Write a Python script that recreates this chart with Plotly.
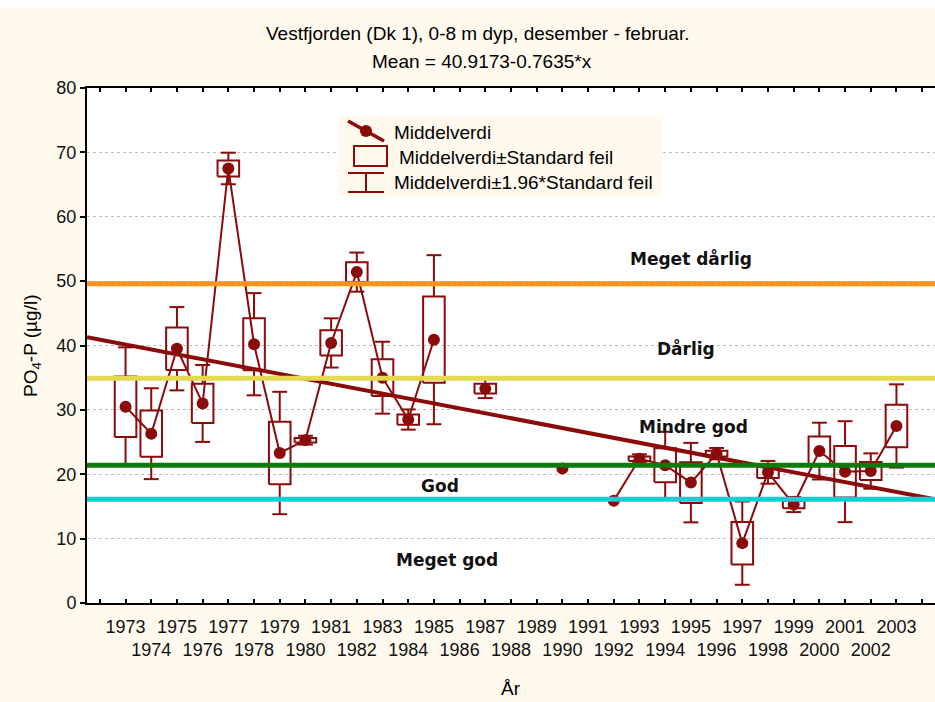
import plotly.graph_objects as go

# --- Data: winter PO4-P (µg/l) in Vestfjorden, 0-8 m ---
obs_years = [1973, 1974, 1975, 1976, 1977, 1978, 1979, 1980, 1981, 1982, 1983, 1984,
             1985, 1987, 1990, 1992, 1993, 1994, 1995, 1996, 1997, 1998, 1999, 2000,
             2001, 2002, 2003]
mean_po4 = [30.5, 26.3, 39.5, 31.0, 67.5, 40.2, 23.3, 25.3, 40.4, 51.4, 35.0, 28.5,
            40.9, 33.3, 20.9, 15.9, 22.4, 21.4, 18.7, 23.2, 9.3, 20.3, 15.3, 23.6,
            20.4, 20.5, 27.5]
se_po4 = [4.7, 3.6, 3.3, 3.05, 1.25, 4.05, 4.85, 0.35, 1.95, 1.55, 2.85, 0.8,
          6.7, 0.75, None, None, 0.35, 2.65, 3.15, 0.45, 3.3, 0.9, 0.6, 2.25,
          4.0, 1.4, 3.3]

# Linear trend from the regression, x = year - 1972
trend_intercept = 40.9173
trend_slope = -0.7635
trend_origin = 1972

# Class boundaries and labels
class_limits = [16.1, 21.4, 34.9, 49.6]
class_colors = ["#12CFD2", "#0B7B0B", "#E3DA52", "#F7931E"]
class_names = ["Meget god", "God", "Mindre god", "Dårlig", "Meget dårlig"]
class_label_x = [1985.5, 1985.25, 1995.1, 1994.8, 1995.0]
class_label_y = [6.7, 18.2, 27.3, 39.6, 53.5]

label_years = list(range(1973, 2004))
x_range = [1971.5, 2004.5]
y_range = [0, 80]

DARK_RED = "#8B0A0A"
CREAM = "#FFF9EE"
BOX_HALF = 0.42
CAP_HALF = 0.29

# plot-area pixel frame, used to place legend and titles in paper units
PLOT_L, PLOT_R, PLOT_T, PLOT_B = 87, 935, 88, 603
W, H = 935, 702


def px(xp):
    return (xp - PLOT_L) / (PLOT_R - PLOT_L)


def py(yp):
    return (PLOT_B - yp) / (PLOT_B - PLOT_T)


# connecting line: break where years are missing
all_years = list(range(obs_years[0], obs_years[-1] + 1))
mean_lookup = dict(zip(obs_years, mean_po4))
line_y = [mean_lookup.get(yr) for yr in all_years]

# boxes (mean ± SE) and whiskers (mean ± 1.96 SE)
box_x, box_y, wh_x, wh_y = [], [], [], []
for yr, m, s in zip(obs_years, mean_po4, se_po4):
    if s is None:
        continue
    lo, hi = m - s, m + s
    lo2, hi2 = m - 1.96 * s, m + 1.96 * s
    box_x += [yr - BOX_HALF, yr + BOX_HALF, yr + BOX_HALF, yr - BOX_HALF, yr - BOX_HALF, None]
    box_y += [lo, lo, hi, hi, lo, None]
    wh_x += [yr, yr, None, yr, yr, None,
             yr - CAP_HALF, yr + CAP_HALF, None, yr - CAP_HALF, yr + CAP_HALF, None]
    wh_y += [hi, hi2, None, lo, lo2, None, hi2, hi2, None, lo2, lo2, None]

fig = go.Figure()
fig.add_trace(go.Scatter(x=box_x, y=box_y, mode="lines",
                         line=dict(color=DARK_RED, width=2), hoverinfo="skip",
                         showlegend=False))
fig.add_trace(go.Scatter(x=wh_x, y=wh_y, mode="lines",
                         line=dict(color=DARK_RED, width=2), hoverinfo="skip",
                         showlegend=False))
fig.add_trace(go.Scatter(x=all_years, y=line_y, mode="lines+markers",
                         line=dict(color=DARK_RED, width=2),
                         marker=dict(color=DARK_RED, size=12),
                         connectgaps=False, showlegend=False, name="Middelverdi"))

trend_x = x_range
trend_y = [trend_intercept + trend_slope * (v - trend_origin) for v in trend_x]
fig.add_trace(go.Scatter(x=trend_x, y=trend_y, mode="lines",
                         line=dict(color=DARK_RED, width=4), showlegend=False))

shapes = []
# thin white strip along the top edge
shapes.append(dict(type="rect", xref="paper", yref="paper",
                   x0=px(0), x1=px(W), y0=py(0), y1=py(7),
                   fillcolor="white", line=dict(width=0), layer="below"))
# class boundary lines
for lim, col in zip(class_limits, class_colors):
    shapes.append(dict(type="line", xref="x", yref="y", x0=x_range[0], x1=x_range[1],
                       y0=lim, y1=lim, line=dict(color=col, width=5), layer="above"))

# legend panel
shapes.append(dict(type="rect", xref="paper", yref="paper",
                   x0=px(339), x1=px(662), y0=py(197), y1=py(116),
                   fillcolor=CREAM, line=dict(width=0), layer="above"))
shapes.append(dict(type="line", xref="paper", yref="paper",
                   x0=px(348), y0=py(121), x1=px(384), y1=py(141),
                   line=dict(color=DARK_RED, width=3.5), layer="above"))
shapes.append(dict(type="circle", xref="paper", yref="paper",
                   x0=px(360), x1=px(372), y0=py(125), y1=py(137),
                   fillcolor=DARK_RED, line=dict(color=DARK_RED, width=0), layer="above"))
shapes.append(dict(type="rect", xref="paper", yref="paper",
                   x0=px(354), x1=px(387), y0=py(166), y1=py(146),
                   line=dict(color=DARK_RED, width=2), layer="above"))
for seg in [((348, 173), (384, 173)), ((348, 192), (384, 192)), ((366, 173), (366, 192))]:
    (ax, ay), (bx, by) = seg
    shapes.append(dict(type="line", xref="paper", yref="paper",
                       x0=px(ax), y0=py(ay), x1=px(bx), y1=py(by),
                       line=dict(color=DARK_RED, width=2), layer="above"))

TEXT_FONT = "Liberation Sans, Arial, sans-serif"
annotations = []
legend_items = [("Middelverdi", 392, 132), ("Middelverdi±Standard feil", 397, 157),
                ("Middelverdi±1.96*Standard feil", 392, 182)]
for txt, lx, ly in legend_items:
    annotations.append(dict(text=txt, xref="paper", yref="paper", x=px(lx), y=py(ly),
                            xanchor="left", yanchor="middle", showarrow=False,
                            font=dict(family=TEXT_FONT, size=19, color="black")))

for name, cx, cy in zip(class_names, class_label_x, class_label_y):
    annotations.append(dict(text=name, x=cx, y=cy, xref="x", yref="y", showarrow=False,
                            xanchor="center", yanchor="middle",
                            font=dict(family="DejaVu Sans, sans-serif", size=17,
                                      color="#111111", weight="bold")))

annotations.append(dict(text="Vestfjorden (Dk 1), 0-8 m dyp, desember - februar.",
                        xref="paper", yref="paper", x=px(477), y=py(34),
                        xanchor="center", yanchor="middle", showarrow=False,
                        font=dict(family=TEXT_FONT, size=19, color="black")))
annotations.append(dict(text="Mean = 40.9173-0.7635*x",
                        xref="paper", yref="paper", x=px(482), y=py(62),
                        xanchor="center", yanchor="middle", showarrow=False,
                        font=dict(family=TEXT_FONT, size=19, color="black")))
annotations.append(dict(text="År", xref="paper", yref="paper", x=0.5, y=py(688),
                        xanchor="center", yanchor="middle", showarrow=False,
                        font=dict(family=TEXT_FONT, size=19, color="black")))
annotations.append(dict(text="PO<sub>4</sub>-P (µg/l)", xref="paper", yref="paper",
                        x=px(32), y=py(346), textangle=-90,
                        xanchor="center", yanchor="middle", showarrow=False,
                        font=dict(family=TEXT_FONT, size=19, color="black")))

# odd years on the first row, even years pushed to a second row
tick_text = [str(yr) if yr % 2 == 1 else "<br>" + str(yr) for yr in label_years]

fig.update_layout(
    template="none",
    width=W, height=H,
    margin=dict(l=PLOT_L, r=W - PLOT_R, t=PLOT_T, b=H - PLOT_B, pad=0),
    paper_bgcolor=CREAM,
    plot_bgcolor="white",
    showlegend=False,
    shapes=shapes,
    annotations=annotations,
    xaxis=dict(range=x_range, tickvals=label_years, ticktext=tick_text, tickangle=0,
               ticks="inside", ticklen=4, tickwidth=1.5, tickcolor="black",
               minor=dict(tick0=1972, dtick=1, ticks="inside", ticklen=4,
                          tickwidth=1.5, tickcolor="black", showgrid=False),
               showline=True, linecolor="black", linewidth=2, mirror="ticks",
               showgrid=False, zeroline=False, ticklabelstandoff=6,
               tickfont=dict(family=TEXT_FONT, size=18, color="#111111"),
               automargin=False),
    yaxis=dict(range=y_range, dtick=10, tick0=0,
               ticks="outside", ticklen=5, tickwidth=1.5, tickcolor="black",
               showline=True, linecolor="black", linewidth=2, mirror=False,
               showgrid=True, gridcolor="#BFBFBF", gridwidth=1, griddash="dot",
               zeroline=False,
               tickfont=dict(family=TEXT_FONT, size=18, color="#111111"),
               automargin=False),
)

fig.write_html("out.html")
